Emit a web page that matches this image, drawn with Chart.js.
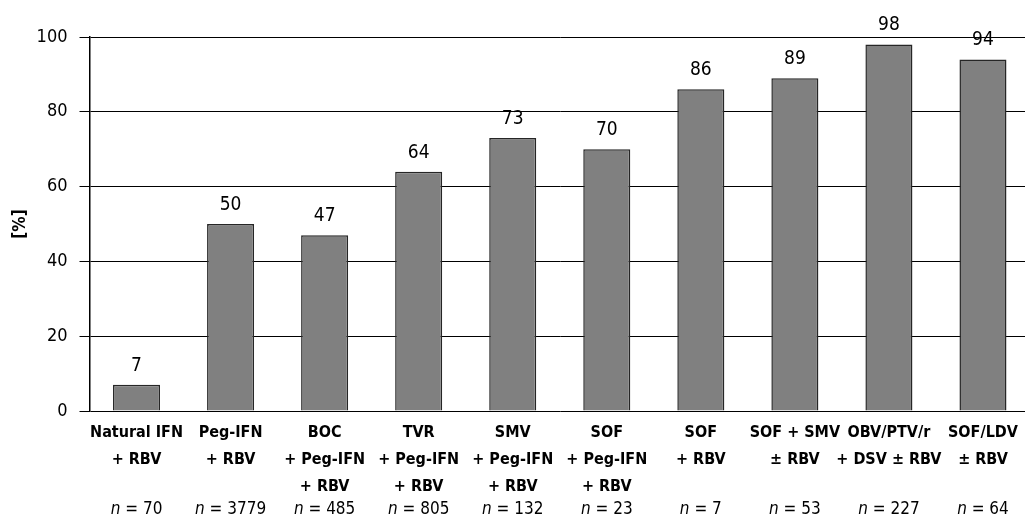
<!DOCTYPE html>
<html>
<head>
<meta charset="utf-8">
<script src="https://cdn.jsdelivr.net/npm/chart.js@4"></script>
<style>
  html, body { margin: 0; padding: 0; background: #fff; overflow: hidden; }
  #wrap { width: 1030px; height: 518px; position: relative; }
</style>
</head>
<body>
<div id="wrap"><canvas id="chart"></canvas></div>
<script>
// regimens, each one split into its label lines
const regimens = [
  ['Natural IFN', '+ RBV'],
  ['Peg-IFN', '+ RBV'],
  ['BOC', '+ Peg-IFN', '+ RBV'],
  ['TVR', '+ Peg-IFN', '+ RBV'],
  ['SMV', '+ Peg-IFN', '+ RBV'],
  ['SOF', '+ Peg-IFN', '+ RBV'],
  ['SOF', '+ RBV'],
  ['SOF + SMV', '\u00b1 RBV'],
  ['OBV/PTV/r', '+ DSV \u00b1 RBV'],
  ['SOF/LDV', '\u00b1 RBV'],
];
const rates = [7, 50, 47, 64, 73, 70, 86, 89, 98, 94];
const sampleSizes = [70, 3779, 485, 805, 132, 23, 7, 53, 227, 64];
const yMin = 0, yMax = 100, yStep = 20;

const FONT = "'Liberation Sans Narrow', 'DejaVu Sans Condensed', 'Arial Narrow', sans-serif";

// numbers above the bars
const valueLabels = {
  id: 'valueLabels',
  afterDatasetsDraw(chart) {
    const ctx = chart.ctx;
    const meta = chart.getDatasetMeta(0);
    ctx.save();
    ctx.font = '19px ' + FONT;
    ctx.fillStyle = '#000';
    ctx.textAlign = 'center';
    ctx.textBaseline = 'middle';
    meta.data.forEach((bar, i) => {
      ctx.fillText(String(rates[i]), bar.x, bar.y - 19);
    });
    ctx.restore();
  }
};

// "n = ..." row under the category labels
const sampleRow = {
  id: 'sampleRow',
  afterDraw(chart) {
    const ctx = chart.ctx;
    const x = chart.scales.x;
    const y = 510;
    ctx.save();
    ctx.fillStyle = '#000';
    ctx.textBaseline = 'middle';
    ctx.textAlign = 'left';
    sampleSizes.forEach((n, i) => {
      const cx = x.getPixelForValue(i);
      const rest = ' = ' + n;
      ctx.font = 'italic 17px ' + FONT;
      const w1 = ctx.measureText('n').width;
      ctx.font = '17px ' + FONT;
      const w2 = ctx.measureText(rest).width;
      const start = cx - (w1 + w2) / 2;
      ctx.font = 'italic 17px ' + FONT;
      ctx.fillText('n', start, y);
      ctx.font = '17px ' + FONT;
      ctx.fillText(rest, start + w1, y);
    });
    ctx.restore();
  }
};

new Chart(document.getElementById('chart'), {
  type: 'bar',
  data: {
    labels: regimens,
    datasets: [{
      data: rates,
      backgroundColor: '#808080',
      borderColor: '#262626',
      borderWidth: 1.5,
      barPercentage: 0.5,
      categoryPercentage: 1.0,
    }],
  },
  options: {
    responsive: true,
    maintainAspectRatio: false,
    animation: false,
    layout: { padding: { top: 37, right: 0, bottom: 0, left: 0 } },
    plugins: {
      legend: { display: false },
      tooltip: { enabled: false },
    },
    scales: {
      x: {
        grid: { display: false, drawTicks: false },
        border: { display: false },
        ticks: {
          color: '#000',
          padding: 8,
          maxRotation: 0,
          autoSkip: false,
          font: { family: FONT, size: 16, weight: 'bold', lineHeight: '27px' },
        },
        afterFit(scale) { scale.height = 107; },
      },
      y: {
        min: yMin,
        max: yMax,
        ticks: {
          stepSize: yStep,
          color: '#000',
          padding: 12,
          font: { family: FONT, size: 18 },
        },
        grid: { color: '#000', lineWidth: 1, tickLength: 10, tickColor: '#000' },
        border: { display: true, color: '#000', width: 1.5 },
        title: {
          display: true,
          text: '[%]',
          color: '#000',
          padding: { top: 10, bottom: 0 },
          font: { family: FONT, size: 17, weight: 'bold' },
        },
        afterFit(scale) { scale.width = 89.5; },
      },
    },
  },
  plugins: [valueLabels, sampleRow],
});
</script>
</body>
</html>
